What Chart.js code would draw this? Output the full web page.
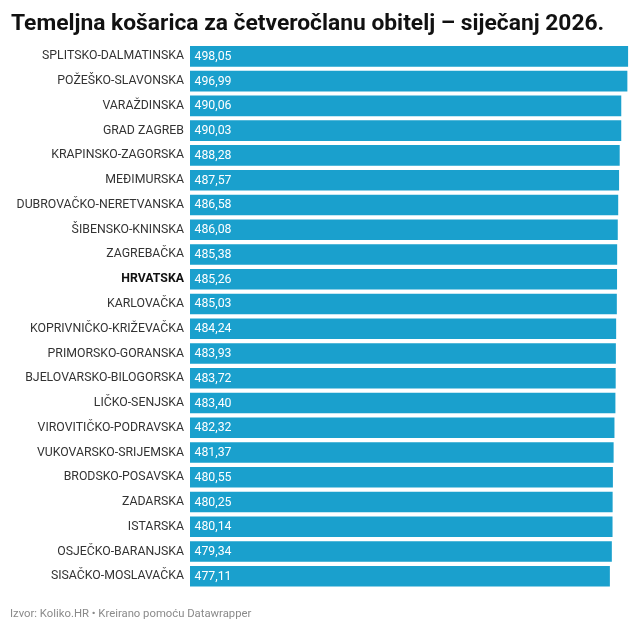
<!DOCTYPE html>
<html>
<head>
<meta charset="utf-8">
<script src="https://cdn.jsdelivr.net/npm/chart.js@4.4.1/dist/chart.umd.min.js"></script>
<style>
html,body{margin:0;padding:0;background:#fff;width:640px;height:631px;overflow:hidden;font-family:Roboto,sans-serif;}
#title{position:absolute;left:11px;top:9px;font-size:22.8px;line-height:normal;font-weight:bold;color:#111;white-space:nowrap;}
#footer{position:absolute;left:10px;top:607px;font-size:11.3px;color:#8a8a8a;white-space:nowrap;}
#wrap{position:absolute;left:0;top:0;width:640px;height:631px;}
</style>
</head>
<body>
<div id="wrap"><canvas id="c"></canvas></div>
<div id="title">Temeljna košarica za četveročlanu obitelj – siječanj 2026.</div>
<div id="footer">Izvor: Koliko.HR • Kreirano pomoću Datawrapper</div>
<script>
const categories = ["SPLITSKO-DALMATINSKA","POŽEŠKO-SLAVONSKA","VARAŽDINSKA","GRAD ZAGREB","KRAPINSKO-ZAGORSKA","MEĐIMURSKA","DUBROVAČKO-NERETVANSKA","ŠIBENSKO-KNINSKA","ZAGREBAČKA","HRVATSKA","KARLOVAČKA","KOPRIVNIČKO-KRIŽEVAČKA","PRIMORSKO-GORANSKA","BJELOVARSKO-BILOGORSKA","LIČKO-SENJSKA","VIROVITIČKO-PODRAVSKA","VUKOVARSKO-SRIJEMSKA","BRODSKO-POSAVSKA","ZADARSKA","ISTARSKA","OSJEČKO-BARANJSKA","SISAČKO-MOSLAVAČKA"];
const values = [498.05,496.99,490.06,490.03,488.28,487.57,486.58,486.08,485.38,485.26,485.03,484.24,483.93,483.72,483.40,482.32,481.37,480.55,480.25,480.14,479.34,477.11];
const highlight = "HRVATSKA";

const valueLabels = {
  id:'valueLabels',
  afterDatasetsDraw(chart){
    const ctx = chart.ctx;
    const meta = chart.getDatasetMeta(0);
    ctx.save();
    ctx.fillStyle = '#ffffff';
    ctx.font = '12.3px Roboto';
    ctx.textBaseline = 'middle';
    ctx.textAlign = 'left';
    meta.data.forEach((bar,i)=>{
      const txt = values[i].toFixed(2).replace('.',',');
      ctx.fillText(txt, bar.base + 4.5, bar.y + 0.5);
    });
    ctx.restore();
  }
};

new Chart(document.getElementById('c'), {
  type:'bar',
  data:{labels:categories, datasets:[{data:values, backgroundColor:'#1aa0cd', borderWidth:0, barPercentage:0.83, categoryPercentage:1}]},
  options:{
    indexAxis:'y',
    responsive:true, maintainAspectRatio:false, animation:false,
    layout:{padding:{left:0,right:11.7,top:44,bottom:42.4}},
    plugins:{legend:{display:false}, tooltip:{enabled:false}},
    scales:{
      x:{display:false, min:0, max:498.05},
      y:{
        afterFit(s){ s.width = 190; },
        grid:{display:false, drawTicks:false},
        border:{display:false},
        ticks:{
          padding:6,
          color:(c)=> categories[c.index]===highlight ? '#111' : '#333',
          font:(c)=> ({family:'Roboto', size:12.3, weight: categories[c.index]===highlight ? 'bold' : 'normal'})
        }
      }
    }
  },
  plugins:[valueLabels]
});
</script>
</body>
</html>
